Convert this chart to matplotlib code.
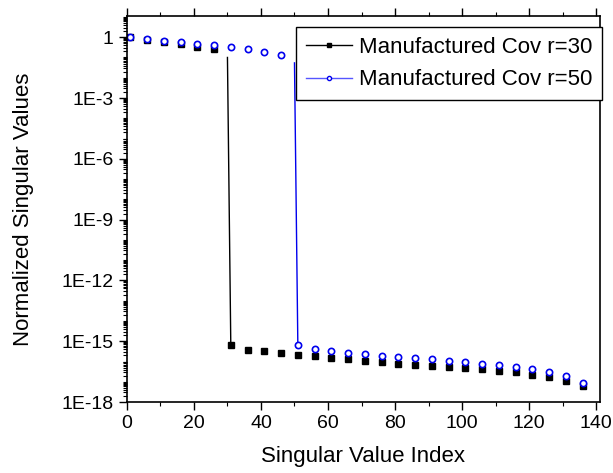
import math
import matplotlib
matplotlib.use('Agg')
import matplotlib.pyplot as plt
from matplotlib.ticker import FixedLocator, MultipleLocator, FuncFormatter, LogLocator, NullFormatter

plt.rcParams['font.family'] = ['Liberation Sans', 'DejaVu Sans']

# singular value index (a symbol every 5th value)
idx = [1, 6, 11, 16, 21, 26, 31, 36, 41, 46, 51, 56, 61, 66, 71, 76, 81, 86,
       91, 96, 101, 106, 111, 116, 121, 126, 131, 136]

sv_r30 = [1.0, 0.71, 0.56, 0.44, 0.33, 0.25, 6.3e-16, 3.9e-16, 3.2e-16, 2.6e-16,
          2.2e-16, 1.8e-16, 1.5e-16, 1.26e-16, 1.07e-16, 9.5e-17, 7.9e-17, 7.1e-17,
          6.3e-17, 5.6e-17, 5.0e-17, 4.1e-17, 3.6e-17, 2.9e-17, 2.1e-17, 1.8e-17,
          1.07e-17, 5.9e-18]

sv_r50 = [1.0, 0.83, 0.66, 0.55, 0.47, 0.41, 0.32, 0.25, 0.18, 0.135, 6.8e-16,
          4.2e-16, 3.3e-16, 2.6e-16, 2.3e-16, 1.95e-16, 1.66e-16, 1.41e-16, 1.26e-16,
          1.07e-16, 9.1e-17, 7.9e-17, 6.6e-17, 5.4e-17, 4.3e-17, 3.2e-17, 2.0e-17,
          8.3e-18]

# the drop after the rank
drop_x30 = [30, 31]
drop_y30 = [0.1, 6.3e-16]
drop_x50 = [50, 51]
drop_y50 = [0.054, 6.8e-16]

fig = plt.figure(figsize=(6.13, 4.73), dpi=100)
ax = fig.add_axes([0.207, 0.150, 0.771, 0.816])

ax.plot(drop_x30, drop_y30, color='black', lw=1.0)
ax.plot(drop_x50, drop_y50, color='#0000ee', lw=1.0)
ax.plot(idx, sv_r30, ls='none', marker='s', ms=4.5, color='black')
ax.plot(idx, sv_r50, ls='none', marker='o', ms=4.5, mfc='white', mec='#0000ee', mew=1.2)

# legend handles
h1, = ax.plot([], [], color='black', lw=1.0, marker='s', ms=3)
h2, = ax.plot([], [], color='#5555ff', lw=1.0, marker='o', ms=3, mfc='white', mec='#0000ee')
leg = ax.legend([h1, h2], ['Manufactured Cov r=30', 'Manufactured Cov r=50'],
                loc='upper right', bbox_to_anchor=(1.006, 0.971), borderaxespad=0,
                fontsize=16, fancybox=False, framealpha=1, edgecolor='black',
                handlelength=2.1, handletextpad=0.3, labelspacing=0.5,
                borderpad=0.45, numpoints=1)
leg.get_frame().set_linewidth(1.0)

ax.set_yscale('log')
ax.set_xlim(0, 141)
ax.set_ylim(1e-18, 11)

ax.yaxis.set_major_locator(FixedLocator([10.0 ** k for k in range(-18, 1, 3)]))
ax.yaxis.set_minor_locator(LogLocator(base=10, subs=[1, 2, 3, 4, 5, 6, 7, 8, 9], numticks=100))
ax.yaxis.set_minor_formatter(NullFormatter())

def ylab(v, pos):
    e = int(round(math.log10(v)))
    return '1' if e == 0 else '1E%d' % e

ax.yaxis.set_major_formatter(FuncFormatter(ylab))
ax.xaxis.set_major_locator(MultipleLocator(20))
ax.xaxis.set_minor_locator(MultipleLocator(10))

ax.tick_params(axis='both', which='major', direction='out', length=6, width=1,
               labelsize=14, top=True, right=False)
ax.tick_params(axis='both', which='minor', direction='out', length=3, width=0.8,
               top=True, right=False)
for s in ax.spines.values():
    s.set_linewidth(1.2)

ax.set_xlabel('Singular Value Index', fontsize=16, labelpad=10)
ax.set_ylabel('Normalized Singular Values', fontsize=16, labelpad=20)

fig.savefig('out.png', dpi=100)
